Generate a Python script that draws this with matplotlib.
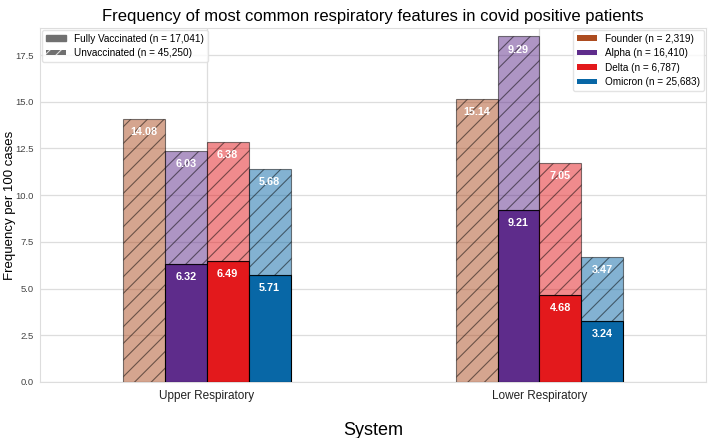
import matplotlib.pyplot as plt
import numpy as np
from matplotlib.patches import Patch

plt.rc('font', family=['Liberation Sans', 'DejaVu Sans'])
plt.rc('hatch', linewidth=0.8)

systems = ['Upper Respiratory', 'Lower Respiratory']
variants = ['Founder', 'Alpha', 'Delta', 'Omicron']
variant_n = ['2,319', '16,410', '6,787', '25,683']
colors = ['#ad4c20', '#5e2c8b', '#e3191c', '#0867a6']

# rows: variants, columns: systems
vaccinated = np.array([[0.0, 0.0],
                       [6.32, 9.21],
                       [6.49, 4.68],
                       [5.71, 3.24]])
unvaccinated = np.array([[14.08, 15.14],
                         [6.03, 9.29],
                         [6.38, 7.05],
                         [5.68, 3.47]])

n_vacc = '17,041'
n_unvacc = '45,250'

fig = plt.figure(figsize=(7.08, 4.38), dpi=100)
ax = fig.add_axes([0.057, 0.128, 0.94, 0.808])

x = np.arange(len(systems))
width = 0.126
offsets = (np.arange(len(variants)) - 1.5) * width

for i, var in enumerate(variants):
    xs = x + offsets[i]
    vac = vaccinated[i]
    unv = unvaccinated[i]
    mask = vac > 0
    if mask.any():
        ax.bar(xs[mask], vac[mask], width, color=colors[i], edgecolor='black',
               linewidth=0.8, zorder=3)
    ax.bar(xs, unv, width, bottom=vac, color=colors[i], alpha=0.5,
           edgecolor='black', hatch='//', linewidth=0.8, zorder=3)
    for j in range(len(systems)):
        if vac[j] > 0:
            ax.text(xs[j], vac[j] - 0.7, f'{vac[j]:.2f}', ha='center', va='center',
                    color='white', fontweight='bold', fontsize=7.8, zorder=4)
        ax.text(xs[j], vac[j] + unv[j] - 0.7, f'{unv[j]:.2f}', ha='center',
                va='center', color='white', fontweight='bold', fontsize=7.8, zorder=4)

ax.set_xlim(-0.5, 1.5)
ax.set_ylim(0, 18.95)
ax.set_yticks(np.arange(0, 17.6, 2.5))
ax.set_xticks(x)
ax.set_xticklabels(systems, fontsize=8.5)
ax.tick_params(axis='y', labelsize=6.8, colors='#444444', length=0, pad=5)
ax.tick_params(axis='x', length=0, pad=6, colors='#222222')
ax.grid(True, color='#dddddd', linewidth=0.9, zorder=0)
for sp in ax.spines.values():
    sp.set_color('#dddddd')

ax.set_ylabel('Frequency per 100 cases', fontsize=9.5)
ax.yaxis.set_label_coords(-0.036, 0.5)
ax.set_xlabel('System', fontsize=13, labelpad=14)
ax.set_title('Frequency of most common respiratory features in covid positive patients',
             fontsize=12, pad=5)

status_handles = [Patch(facecolor='#707070', edgecolor='#707070', label=f'Fully Vaccinated (n = {n_vacc})'),
                  Patch(facecolor='#707070', edgecolor='#dddddd', hatch='///', linewidth=0,
                        label=f'Unvaccinated (n = {n_unvacc})')]
leg1 = ax.legend(handles=status_handles, loc='upper left', fontsize=7.2,
                 frameon=True, borderaxespad=0.15, handlelength=2.0, handleheight=0.5,
                 labelspacing=0.45)
leg1.get_frame().set_edgecolor('#dddddd')
ax.add_artist(leg1)

variant_handles = [Patch(facecolor=colors[i], label=f'{variants[i]} (n = {variant_n[i]})')
                   for i in range(len(variants))]
leg2 = ax.legend(handles=variant_handles, loc='upper right', fontsize=7.2,
                 frameon=True, borderaxespad=0.15, handlelength=2.0, handleheight=0.5,
                 labelspacing=0.45)
leg2.get_frame().set_edgecolor('#dddddd')

fig.savefig('out.png', dpi=100)
